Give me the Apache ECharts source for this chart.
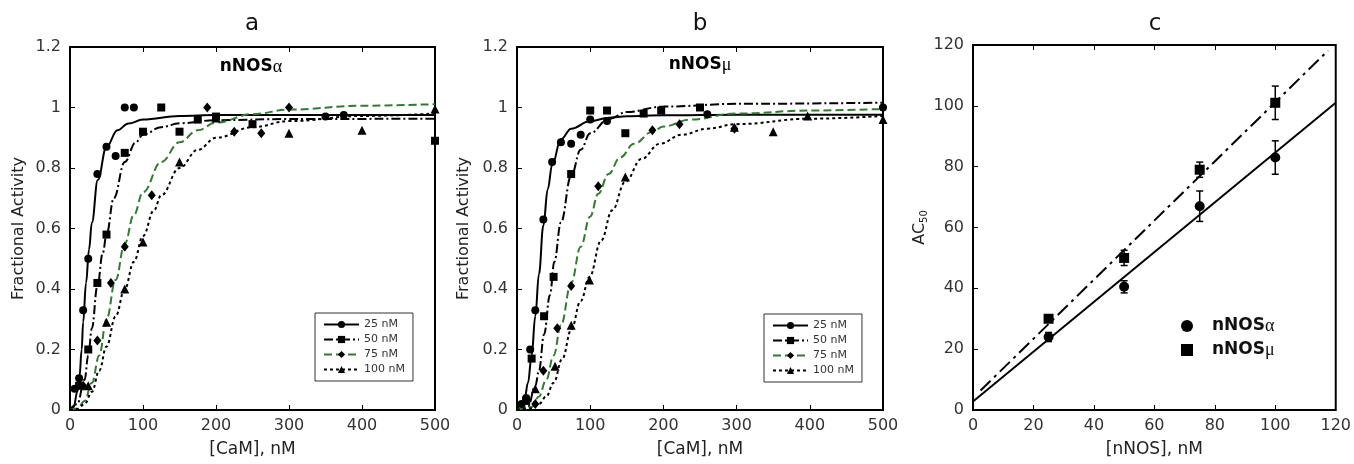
<!DOCTYPE html>
<html><head><meta charset="utf-8">
<script src="https://cdn.jsdelivr.net/npm/echarts@6/dist/echarts.min.js"></script>
<style>html,body{margin:0;padding:0;background:#fff}#c{width:1354px;height:464px}</style>
</head><body><div id="c"></div><script>
// ---------- Panel a (nNOSα): fitted curves ----------
const fitA25  = [[0,0],[5,0.01],[10,0.06],[13,0.11],[16,0.2],[18,0.29],[22,0.42],[26,0.53],[30,0.62],[38,0.76],[50,0.87],[65,0.925],[80,0.947],[100,0.96],[150,0.972],[200,0.975],[500,0.975]];
const fitA50  = [[0,0],[10,0.02],[20,0.1],[25,0.18],[30,0.27],[37.5,0.41],[45,0.52],[50,0.58],[60,0.70],[75,0.82],[90,0.885],[100,0.91],[125,0.935],[150,0.948],[200,0.958],[300,0.962],[500,0.963]];
const fitA75  = [[0,0],[10,0.005],[20,0.03],[30,0.09],[40,0.18],[50,0.30],[62.5,0.43],[75,0.55],[87.5,0.645],[100,0.72],[125,0.82],[150,0.885],[175,0.925],[200,0.95],[250,0.978],[300,0.993],[400,1.006],[500,1.011]];
const fitA100 = [[0,0],[10,0.003],[20,0.02],[30,0.06],[40,0.13],[50,0.21],[62.5,0.31],[75,0.40],[87.5,0.49],[100,0.575],[115,0.66],[125,0.71],[150,0.80],[175,0.86],[200,0.90],[250,0.935],[300,0.955],[400,0.972],[500,0.98]];
// Panel a measured points
const ptsA25  = [[6.25,0.07],[12.5,0.105],[18,0.33],[25,0.50],[37.5,0.78],[50,0.87],[62.5,0.84],[75,1.0],[87.5,1.0],[350,0.97],[375,0.975]];
const ptsA50  = [[12.5,0.08],[25,0.2],[37.5,0.42],[50,0.58],[75,0.85],[100,0.92],[125,1.0],[150,0.92],[175,0.96],[200,0.97],[250,0.945],[500,0.89]];
const ptsA75  = [[18,0.08],[37.5,0.23],[56,0.42],[75,0.54],[112,0.71],[188,1.0],[225,0.92],[262,0.915],[300,1.0]];
const ptsA100 = [[25,0.08],[50,0.29],[75,0.40],[100,0.555],[150,0.82],[200,0.965],[300,0.915],[400,0.925],[500,0.995]];

// ---------- Panel b (nNOSμ) ----------
const fitB25  = [[0,0],[10,0.03],[15,0.09],[20,0.18],[25,0.31],[30,0.45],[36,0.61],[42,0.73],[48,0.81],[60,0.895],[74,0.93],[100,0.955],[125,0.966],[150,0.971],[200,0.974],[300,0.976],[500,0.976]];
const fitB50  = [[0,0],[15,0.01],[25,0.08],[30,0.13],[37,0.25],[45,0.38],[51,0.49],[60,0.62],[74,0.775],[87,0.86],[100,0.915],[125,0.962],[150,0.985],[200,1.003],[300,1.012],[500,1.016]];
const fitB75  = [[0,0],[20,0.01],[30,0.045],[40,0.10],[50,0.18],[60,0.28],[74,0.42],[87,0.54],[100,0.64],[111,0.715],[125,0.78],[141,0.835],[160,0.88],[185,0.92],[200,0.937],[236,0.96],[300,0.98],[400,0.99],[500,0.995]];
const fitB100 = [[0,0],[20,0.005],[30,0.02],[40,0.045],[50,0.09],[62,0.17],[74,0.265],[87,0.36],[99,0.44],[115,0.56],[130,0.66],[148,0.755],[170,0.83],[195,0.88],[225,0.91],[260,0.93],[300,0.945],[400,0.963],[500,0.972]];
const ptsB25  = [[6.25,0.02],[12.5,0.04],[18,0.2],[25,0.33],[36,0.63],[48,0.82],[60,0.885],[74,0.88],[87,0.91],[100,0.96],[123,0.955],[260,0.978],[500,1.0]];
const ptsB50  = [[12.5,0.03],[20,0.17],[37,0.31],[50,0.44],[74,0.78],[100,0.99],[123,0.99],[148,0.915],[173,0.98],[197,0.99],[250,1.0]];
const ptsB75  = [[25,0.02],[36,0.13],[55,0.27],[74,0.41],[111,0.74],[185,0.925],[222,0.945],[297,0.93]];
const ptsB100 = [[25,0.07],[52,0.145],[74,0.28],[99,0.43],[148,0.77],[297,0.935],[350,0.92],[397,0.972],[500,0.96]];

// ---------- Panel c: AC50 vs [nNOS] ----------
const nNOS     = [25, 50, 75, 100];
const acAlpha  = [24, 40.5, 67, 83];
const errAlpha = [1.5, 2, 5, 5.5];
const acMu     = [30, 50, 79, 101];
const errMu    = [1, 2.5, 2.5, 5.5];
const fitAlphaLine = [[0,2.8],[120,101]];
const fitMuLine    = [[2.5,6.4],[117.5,118.2]];

const concNames = ['25 nM','50 nM','75 nM','100 nM'];
const panelTitles = ['a','b','c'];

const FONT = '"DejaVu Sans", sans-serif';
const GREEN = '#2f7d2f';
const grids = [
  {left:70, top:47, width:365, height:363},
  {left:517, top:47, width:366, height:363},
  {left:973, top:45, width:366, height:365}
];
grids.forEach(g => Object.assign(g, {show:true, borderColor:'#000', borderWidth:2, backgroundColor:'transparent'}));

function xAx(gi, max, interval, name) {
  return {type:'value', gridIndex:gi, min:0, max, interval, name, nameLocation:'middle', nameGap:31,
    nameTextStyle:{fontSize:17, color:'#222', fontFamily:FONT},
    axisLine:{show:false}, axisTick:{inside:true, length:5, lineStyle:{color:'#000', width:1}},
    axisLabel:{fontSize:16, color:'#333', margin:8, fontFamily:FONT}, splitLine:{show:false}};
}
function xTop(gi, max, interval) {
  return {type:'value', gridIndex:gi, position:'top', min:0, max, interval,
    axisLine:{show:false}, axisTick:{inside:true, length:5, lineStyle:{color:'#000', width:1}},
    axisLabel:{show:false}, splitLine:{show:false}};
}
function yAx(gi, max, interval, name, gap, rich) {
  return {type:'value', gridIndex:gi, min:0, max, interval, name, nameLocation:'middle', nameGap:gap,
    nameTextStyle:Object.assign({fontSize:16, color:'#222', fontFamily:FONT}, rich ? {rich} : {}),
    axisLine:{show:false}, axisTick:{inside:true, length:5, lineStyle:{color:'#000', width:1}},
    axisLabel:{fontSize:16, color:'#333', margin:9, fontFamily:FONT}, splitLine:{show:false}};
}

const curveStyles = [
  {color:'#000', type:'solid', symbol:'circle'},
  {color:'#000', type:[9,3,2,3], symbol:'rect'},
  {color:GREEN, type:[8,4], symbol:'diamond'},
  {color:'#000', type:[3,3], symbol:'triangle'}
];
const symSizes = {circle:8, rect:8, diamond:[8,10], triangle:9};

const series = [];
function addPanel(idx, fits, pts) {
  fits.forEach((f, i) => {
    const st = curveStyles[i];
    series.push({type:'line', name:concNames[i], xAxisIndex:idx, yAxisIndex:idx, data:f,
      smooth:0.4, smoothMonotone:'x', showSymbol:false, symbol:st.symbol, symbolSize:symSizes[st.symbol],
      itemStyle:{color:'#000', opacity:1}, lineStyle:{color:st.color, width:2, type:st.type}, silent:true, z:2});
  });
  pts.forEach((p, i) => {
    const st = curveStyles[i];
    series.push({type:'scatter', xAxisIndex:idx, yAxisIndex:idx, data:p, symbol:st.symbol,
      symbolSize:symSizes[st.symbol], itemStyle:{color:'#000', opacity:1}, z:3});
  });
}
addPanel(0, [fitA25, fitA50, fitA75, fitA100], [ptsA25, ptsA50, ptsA75, ptsA100]);
addPanel(1, [fitB25, fitB50, fitB75, fitB100], [ptsB25, ptsB50, ptsB75, ptsB100]);

// Panel c
series.push({type:'line', xAxisIndex:2, yAxisIndex:2, data:fitAlphaLine, showSymbol:false, lineStyle:{color:'#000', width:2}, z:2});
series.push({type:'line', xAxisIndex:2, yAxisIndex:2, data:fitMuLine, showSymbol:false, lineStyle:{color:'#000', width:2, type:[14,5,3,5]}, z:2});
function errRows(y, e) { return nNOS.map((x, i) => [x, y[i], e[i]]); }
function errSeries(rows) {
  return {type:'custom', xAxisIndex:2, yAxisIndex:2, data:rows, encode:{x:0, y:1}, z:3,
    renderItem:(p, api) => {
      const x = api.value(0), y = api.value(1), e = api.value(2);
      const t = api.coord([x, y + e]), b = api.coord([x, y - e]), w = 3.5;
      const s = {stroke:'#000', lineWidth:1.5};
      return {type:'group', children:[
        {type:'line', shape:{x1:t[0], y1:t[1], x2:b[0], y2:b[1]}, style:s},
        {type:'line', shape:{x1:t[0]-w, y1:t[1], x2:t[0]+w, y2:t[1]}, style:s},
        {type:'line', shape:{x1:b[0]-w, y1:b[1], x2:b[0]+w, y2:b[1]}, style:s}
      ]};
    }};
}
series.push(errSeries(errRows(acAlpha, errAlpha)));
series.push(errSeries(errRows(acMu, errMu)));
series.push({type:'scatter', name:'nNOSα', xAxisIndex:2, yAxisIndex:2, data:nNOS.map((x,i)=>[x, acAlpha[i]]), symbol:'circle', symbolSize:10, itemStyle:{color:'#000', opacity:1}, z:4});
series.push({type:'scatter', name:'nNOSμ', xAxisIndex:2, yAxisIndex:2, data:nNOS.map((x,i)=>[x, acMu[i]]), symbol:'rect', symbolSize:10, itemStyle:{color:'#000', opacity:1}, z:4});

function concLegend(left, top) {
  return {data:concNames, left, top, orient:'vertical', itemWidth:35, itemHeight:9, itemGap:4,
    padding:[6,8,6,8], borderColor:'#333', borderWidth:1, selectedMode:false,
    textStyle:{fontSize:11, color:'#333', fontFamily:FONT}};
}
const richName = {b:{fontSize:17, fontWeight:'bold', fontFamily:FONT, color:'#111'}, g:{fontSize:18, fontFamily:'"Liberation Serif", serif', color:'#111'}};

const option = {
  animation:false,
  backgroundColor:'#fff',
  grid:grids,
  xAxis:[xAx(0,500,100,'[CaM], nM'), xAx(1,500,100,'[CaM], nM'), xAx(2,120,20,'[nNOS], nM'),
         xTop(0,500,100), xTop(1,500,100), xTop(2,120,20)],
  yAxis:[yAx(0,1.2,0.2,'Fractional Activity',43), yAx(1,1.2,0.2,'Fractional Activity',45),
         yAx(2,120,20,'AC{s|50}',34,{s:{fontSize:10, color:'#222', fontFamily:FONT, padding:[0,0,-10,0]}})],
  legend:[concLegend(315,313), concLegend(764,314),
    {data:['nNOSα','nNOSμ'], left:1176, top:312, orient:'vertical', itemWidth:12, itemHeight:12, itemGap:6,
     selectedMode:false, formatter:n => '{b|nNOS}{g|' + n.slice(4) + '}',
     textStyle:{rich:richName, padding:[0,0,0,14]}}],
  graphic:[
    {type:'text', x:252, y:24, style:{text:panelTitles[0], font:'23px "DejaVu Sans"', fill:'#111', textAlign:'center', textVerticalAlign:'middle'}},
    {type:'text', x:700, y:24, style:{text:panelTitles[1], font:'23px "DejaVu Sans"', fill:'#111', textAlign:'center', textVerticalAlign:'middle'}},
    {type:'text', x:1155, y:24, style:{text:panelTitles[2], font:'23px "DejaVu Sans"', fill:'#111', textAlign:'center', textVerticalAlign:'middle'}},
    {type:'text', x:251, y:67, style:{text:'{b|nNOS}{g|α}', rich:richName, textAlign:'center', textVerticalAlign:'middle'}},
    {type:'text', x:700, y:65, style:{text:'{b|nNOS}{g|μ}', rich:richName, textAlign:'center', textVerticalAlign:'middle'}}
  ],
  series
};
const chart = echarts.init(document.getElementById('c'), null, {renderer:'canvas'});
chart.setOption(option);
</script></body></html>
